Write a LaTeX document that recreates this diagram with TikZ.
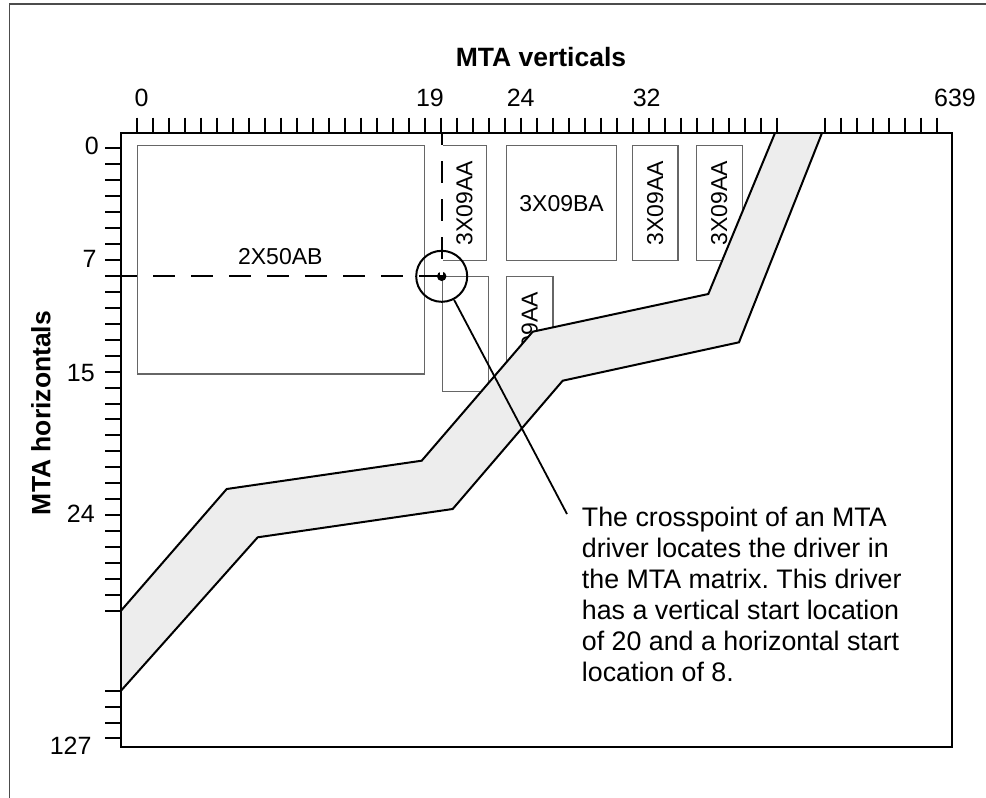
\documentclass[tikz,border=0pt]{standalone}
\usepackage{fontspec}
\setmainfont{Liberation Sans}
\usetikzlibrary{positioning}
\frenchspacing

\begin{document}
\begin{tikzpicture}[
  x=1pt, y=-1pt,
  card/.style={rectangle,draw=black!60,line width=1.2pt,inner sep=0pt,anchor=north west,minimum height=115pt},
  cardlbl/.style={font=\fontsize{23}{23}\selectfont},
  ticklbl/.style={font=\fontsize{25}{25}\selectfont,inner sep=0pt},
  axislbl/.style={font=\fontsize{26.5}{26.5}\selectfont\bfseries,inner sep=0pt},
  tick/.style={line width=2pt},
  dashline/.style={line width=2pt,dash pattern=on 22pt off 16pt},
  bandedge/.style={draw=black,line width=2pt},
  note/.style={font=\fontsize{26.8}{31}\selectfont,align=left,inner sep=0pt,anchor=north west}
]
\useasboundingbox (0,0) rectangle (986,798);
\def\ox{136.7}
\def\oy{148.3}
\def\dx{16}
\def\dy{15.95}

% Page frame
\draw[black!70,line width=1.5pt] (9.5,798) -- (9.5,4) -- (986,4);

% Cards in the matrix
\node[card,minimum width=287.3pt,minimum height=228.3pt] (b2X50) at (136.7,145) {};
\foreach \nm/\x/\y/\w in {A1/441.7/145/44.3, BA/506/145/110, A3/631.7/145/45.6,
                          A4/695.7/145/46, LO/441.7/276/46, A5/506/276/46.3}{
  \node[card,minimum width=\w pt] (b\nm) at (\x,\y) {};
}
\node[cardlbl] at (280.3,257) {2X50AB};
\node[cardlbl] at (bBA.center) {3X09BA};
\foreach \nm in {A1,A3,A4,A5}{
  \node[cardlbl,rotate=90] at (b\nm.center) {3X09AA};
}

% Crosspoint of the driver
\coordinate (v19) at (441.7,133);
\coordinate (h8) at (121,276.3);
\node[circle,fill=black,inner sep=0pt,minimum size=9.5pt] (dot) at (441.7,276.3) {};
\draw[white,line width=3.5pt] (v19) -- (dot.center);
\draw[dashline,dash phase=10pt] (v19) -- (dot.center);
\draw[dashline,dash phase=6pt] (h8) -- (dot.center);

% Band
\fill[black!7] (121,610.7) -- (226.7,489) -- (421.7,460.7) -- (532.7,331.7) -- (708.3,294)
  -- (775,133) -- (822,133) -- (739,342.3) -- (562.7,380.7) -- (452.7,509)
  -- (257.7,537.3) -- (121,690.7) -- cycle;
\draw[bandedge] (121,610.7) -- (226.7,489) -- (421.7,460.7) -- (532.7,331.7) -- (708.3,294) -- (775,133);
\draw[bandedge] (121,690.7) -- (257.7,537.3) -- (452.7,509) -- (562.7,380.7) -- (739,342.3) -- (822,133);

% Matrix outline and ticks
\draw[line width=2.2pt] (121,133) rectangle (951.7,746.7);
\foreach \i in {0,...,40,43,44,...,50}{
  \draw[tick] ({\ox+\dx*\i},117.7) -- ({\ox+\dx*\i},133);
}
\foreach \j in {0,...,29,34,35,36,37}{
  \draw[tick] (105,{\oy+\dy*\j}) -- (121,{\oy+\dy*\j});
}

% Axis labels
\node[axislbl,anchor=base] (xlab) at (541,66) {MTA verticals};
\node[axislbl,rotate=90] (ylab) at (41,413) {MTA horizontals};
\foreach \x/\t in {141.7/0, 430/19, 520.7/24, 646.7/32, 955/639}{
  \node[ticklbl,anchor=base] at (\x,106.7) {\t};
}
\foreach \x/\y/\t in {99/146/0, 96.7/259/7, 95/373.3/15, 95/514/24, 91.7/746/127}{
  \node[ticklbl,anchor=east] at (\x,\y) {\t};
}

% Note
\node[circle,draw=black,line width=2pt,minimum size=51pt,inner sep=0pt] (xp) at (dot) {};
\node[note] (txt) at (581.7,507) {The crosspoint of an MTA\\driver locates the driver in\\the MTA matrix. This driver\\has a vertical start location\\of 20 and a horizontal start\\location of 8.};
\coordinate (tip) at (567,514);
\draw[line width=1.8pt] (xp) -- (tip);
\end{tikzpicture}
\end{document}
